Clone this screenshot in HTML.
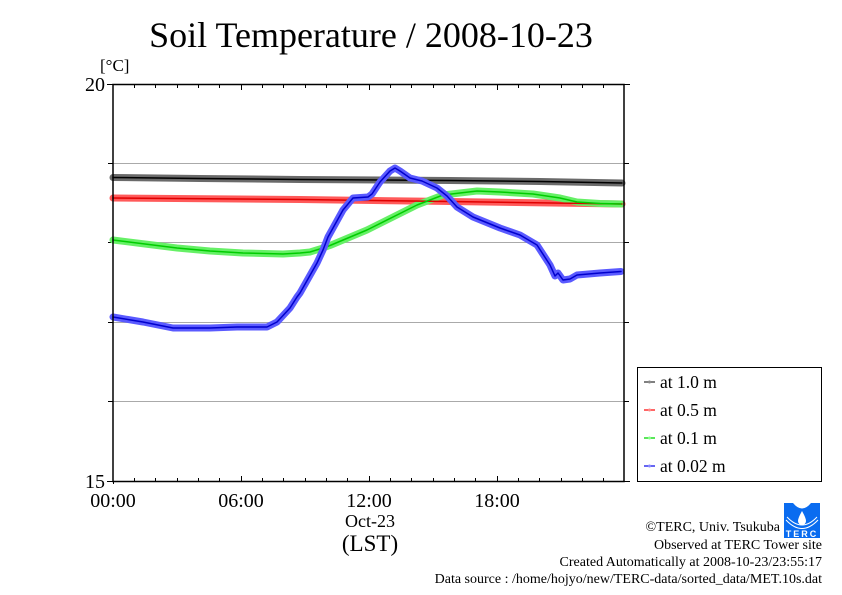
<!DOCTYPE html>
<html><head><meta charset="utf-8"><style>
html,body{margin:0;padding:0;background:#fff;}
svg{display:block;}
text{font-family:"Liberation Serif",serif;fill:#000;}
</style></head><body>
<svg width="842" height="595" viewBox="0 0 842 595" xmlns="http://www.w3.org/2000/svg">
<rect width="842" height="595" fill="#fff"/>
<text x="371" y="47" font-size="36" text-anchor="middle">Soil Temperature / 2008-10-23</text>
<text x="100" y="71" font-size="17">[°C]</text>
<text x="105" y="91" font-size="20" text-anchor="end">20</text>
<text x="105" y="488" font-size="20" text-anchor="end">15</text>
<g stroke="#aaa" stroke-width="1">
<line x1="113" y1="163.5" x2="624" y2="163.5"/>
<line x1="113" y1="242.5" x2="624" y2="242.5"/>
<line x1="113" y1="322.5" x2="624" y2="322.5"/>
<line x1="113" y1="401.5" x2="624" y2="401.5"/>
</g>
<g stroke="#000" stroke-width="1">
<line x1="107" y1="84.5" x2="113" y2="84.5"/>
<line x1="107" y1="481.5" x2="113" y2="481.5"/>
<line x1="108" y1="163.5" x2="113" y2="163.5"/>
<line x1="108" y1="242.5" x2="113" y2="242.5"/>
<line x1="108" y1="322.5" x2="113" y2="322.5"/>
<line x1="108" y1="401.5" x2="113" y2="401.5"/>
<line x1="624" y1="163.5" x2="629" y2="163.5"/>
<line x1="624" y1="242.5" x2="629" y2="242.5"/>
<line x1="624" y1="322.5" x2="629" y2="322.5"/>
<line x1="624" y1="401.5" x2="629" y2="401.5"/>
<line x1="624" y1="84.5" x2="630" y2="84.5"/>
<line x1="624" y1="481.5" x2="630" y2="481.5"/>
</g>
<!-- series -->
<g fill="none" stroke-linejoin="round" stroke-linecap="round">
<path d="M113,177.5 L200,178.5 L300,179.5 L450,180.5 L540,181.5 L622,183" stroke="#5a5a5a" stroke-width="7" opacity="0.9"/>
<path d="M113,177.5 L200,178.5 L300,179.5 L450,180.5 L540,181.5 L622,183" stroke="#000" stroke-width="1.5"/>
<path d="M113,198 L300,199.5 L450,201.5 L622,204" stroke="#ff5a5a" stroke-width="7"/>
<path d="M113,240 L145,244 L177,248 L210,251 L243,253 L283,254 L300,253 L310,252 L323,248 L330,245.5 L367,230 L417,205 L443,195 L477,191 L500,192 L533,194 L560,198 L577,202 L600,203.5 L621,204" stroke="#66f066" stroke-width="7"/>
<path d="M113,198 L300,199.5 L450,201.5 L622,204" stroke="#e00000" stroke-width="1.5"/>
<path d="M113,240 L145,244 L177,248 L210,251 L243,253 L283,254 L300,253 L310,252 L323,248 L330,245.5 L367,230 L417,205 L443,195 L477,191 L500,192 L533,194 L560,198 L577,202 L600,203.5 L621,204" stroke="#00cc00" stroke-width="1.5"/>
<path d="M113,317 L143,322 L173,328 L210,328 L237,327 L267,327 L277,322 L290,308 L297,297 L300,293 L317,263 L323,250 L328,237 L343,210 L353,198 L368,197 L372,194 L380,182 L390,171 L395,168 L400,171 L410,178 L422,181 L437,188 L447,196 L457,207 L473,217 L500,228 L520,235 L537,245 L550,265 L555,276 L558,273 L563,280 L570,279 L577,275 L600,273 L621,271.5" stroke="#5a5aff" stroke-width="7"/>
<path d="M113,317 L143,322 L173,328 L210,328 L237,327 L267,327 L277,322 L290,308 L297,297 L300,293 L317,263 L323,250 L328,237 L343,210 L353,198 L368,197 L372,194 L380,182 L390,171 L395,168 L400,171 L410,178 L422,181 L437,188 L447,196 L457,207 L473,217 L500,228 L520,235 L537,245 L550,265 L555,276 L558,273 L563,280 L570,279 L577,275 L600,273 L621,271.5" stroke="#0000cc" stroke-width="1.5"/>
</g>
<rect x="113" y="84.5" width="511" height="397" fill="none" stroke="#000" stroke-width="1.5"/>
<text x="113" y="507" font-size="20" text-anchor="middle">00:00</text>
<text x="241" y="507" font-size="20" text-anchor="middle">06:00</text>
<text x="369" y="507" font-size="20" text-anchor="middle">12:00</text>
<text x="497" y="507" font-size="20" text-anchor="middle">18:00</text>
<text x="370" y="527" font-size="18" text-anchor="middle">Oct-23</text>
<text x="370" y="551" font-size="23" text-anchor="middle">(LST)</text>
<!-- legend -->
<rect x="637.5" y="367.5" width="184" height="114" fill="#fff" stroke="#000" stroke-width="1"/>
<g stroke-width="1.5">
<line x1="644" y1="382" x2="655" y2="382" stroke="#555"/><circle cx="649.5" cy="382" r="1.5" fill="#888" stroke="none"/>
<line x1="644" y1="410" x2="655" y2="410" stroke="#ff3333"/><circle cx="649.5" cy="410" r="1.5" fill="#ff8888" stroke="none"/>
<line x1="644" y1="438" x2="655" y2="438" stroke="#22dd22"/><circle cx="649.5" cy="438" r="1.5" fill="#88ff88" stroke="none"/>
<line x1="644" y1="466" x2="655" y2="466" stroke="#3333ee"/><circle cx="649.5" cy="466" r="1.5" fill="#8888ff" stroke="none"/>
</g>
<text x="660" y="388" font-size="17.5">at 1.0 m</text>
<text x="660" y="416" font-size="17.5">at 0.5 m</text>
<text x="660" y="444" font-size="17.5">at 0.1 m</text>
<text x="660" y="472" font-size="17.5">at 0.02 m</text>
<!-- logo -->
<g>
<rect x="784" y="503" width="36" height="35" fill="#0a6cf0"/>
<path d="M793,503 Q802,514 811,503 Z" fill="#fff"/>
<path d="M802,511 Q798,518 798,521 A4,4 0 0 0 806,521 Q806,518 802,511 Z" fill="#fff"/>
<path d="M787,517 Q802,533 817,517" fill="none" stroke="#fff" stroke-width="1"/>
<path d="M786,520 Q802,537 818,520" fill="none" stroke="#fff" stroke-width="1"/>
<text x="802" y="537" font-size="9" font-weight="bold" text-anchor="middle" style="fill:#fff;letter-spacing:2px;font-family:'Liberation Sans',sans-serif">TERC</text>
</g>
<text x="780" y="531" font-size="14" text-anchor="end">©TERC, Univ. Tsukuba</text>
<text x="822" y="549" font-size="14" text-anchor="end">Observed at TERC Tower site</text>
<text x="822" y="566" font-size="14" text-anchor="end">Created Automatically at 2008-10-23/23:55:17</text>
<text x="822" y="583" font-size="14" text-anchor="end">Data source : /home/hojyo/new/TERC-data/sorted_data/MET.10s.dat</text>
<g stroke="#000" stroke-width="1">
<path d="M134.5,85 v3 M155.5,85 v3 M177.5,85 v3 M198.5,85 v3 M219.5,85 v3 M241.5,85 v5 M262.5,85 v3 M283.5,85 v3 M305.5,85 v3 M326.5,85 v3 M347.5,85 v3 M369.5,85 v5 M390.5,85 v3 M411.5,85 v3 M433.5,85 v3 M454.5,85 v3 M475.5,85 v3 M497.5,85 v5 M518.5,85 v3 M539.5,85 v3 M561.5,85 v3 M582.5,85 v3 M603.5,85 v3"/>
<path d="M134.5,481 v-3 M155.5,481 v-3 M177.5,481 v-3 M198.5,481 v-3 M219.5,481 v-3 M241.5,481 v-5 M262.5,481 v-3 M283.5,481 v-3 M305.5,481 v-3 M326.5,481 v-3 M347.5,481 v-3 M369.5,481 v-5 M390.5,481 v-3 M411.5,481 v-3 M433.5,481 v-3 M454.5,481 v-3 M475.5,481 v-3 M497.5,481 v-5 M518.5,481 v-3 M539.5,481 v-3 M561.5,481 v-3 M582.5,481 v-3 M603.5,481 v-3"/>
<path d="M113.5,481 v3"/>
</g>
</svg>
</body></html>
